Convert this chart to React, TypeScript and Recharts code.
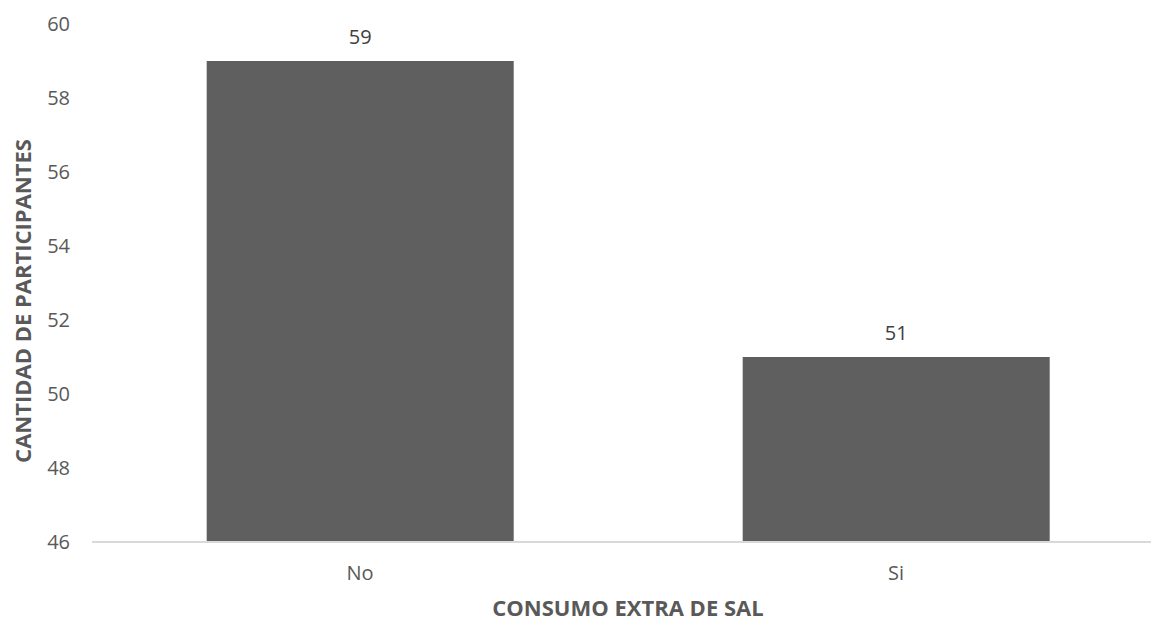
import { BarChart, Bar, XAxis, YAxis, LabelList, Label } from "recharts"

const categories = ["No", "Si"]
const participants = [59, 51]
const yTicks = [46, 48, 50, 52, 54, 56, 58, 60]

const data = categories.map((name, i) => ({ name, value: participants[i] }))

const FONT = "'Open Sans', sans-serif"
const TEXT = "#595959"

export default function App() {
  return (
    <div style={{ position: "absolute", left: 0, top: 0, width: 1151, height: 622, overflow: "hidden", background: "#fff" }}>
      <BarChart
        width={1164}
        height={622}
        data={data}
        margin={{ top: 24, right: 0, bottom: 0, left: 0 }}
        barCategoryGap="21.4%"
      >
        <XAxis
          dataKey="name"
          axisLine={{ stroke: "#d9d9d9", strokeWidth: 2 }}
          tickLine={false}
          tick={{ fill: TEXT, fontSize: 20, fontFamily: FONT }}
          tickMargin={18}
          height={80}
        >
          <Label
            content={() => (
              <text x={628} y={607} textAnchor="middle" dominantBaseline="central" fill={TEXT} fontSize={22} fontWeight="bold" fontFamily={FONT}>
                CONSUMO EXTRA DE SAL
              </text>
            )}
          />
        </XAxis>
        <YAxis
          domain={[46, 60]}
          ticks={yTicks}
          axisLine={false}
          tickLine={false}
          tickSize={0}
          tickMargin={22}
          width={92}
          tick={{ fill: TEXT, fontSize: 20, fontFamily: FONT }}
        >
          <Label
            content={() => (
              <text x={22} y={301} transform="rotate(-90 22 301)" textAnchor="middle" dominantBaseline="central" fill={TEXT} fontSize={22} fontWeight="bold" fontFamily={FONT}>
                CANTIDAD DE PARTICIPANTES
              </text>
            )}
          />
        </YAxis>
        <Bar dataKey="value" fill="#5f5f5f" isAnimationActive={false}>
          <LabelList dataKey="value" position="top" offset={17} fill="#404040" fontSize={20} fontFamily={FONT} />
        </Bar>
      </BarChart>
    </div>
  )
}
